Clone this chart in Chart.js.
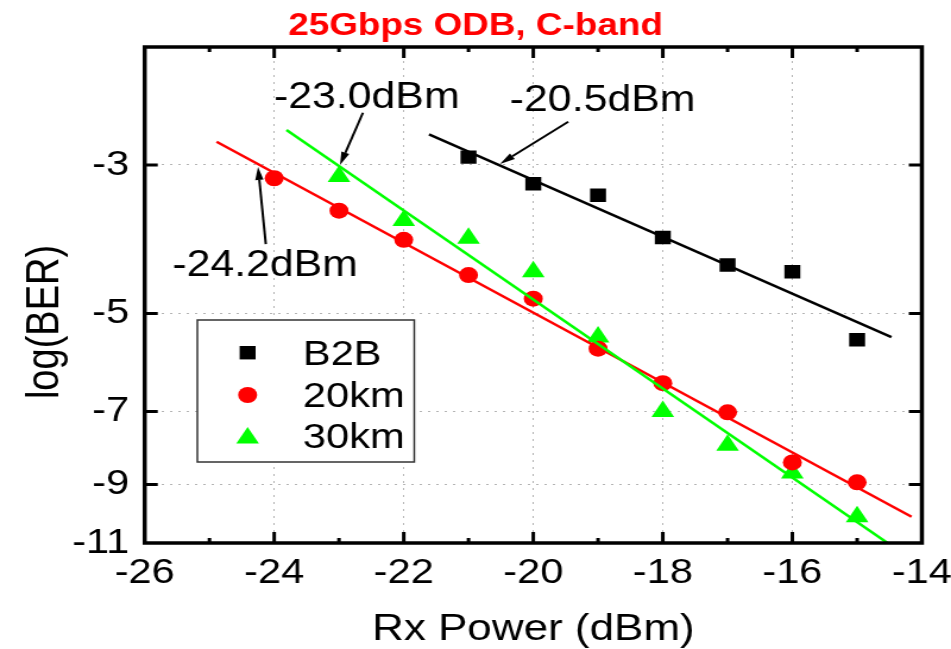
<!DOCTYPE html>
<html>
<head>
<meta charset="utf-8">
<script src="https://cdn.jsdelivr.net/npm/chart.js@4.4.1/dist/chart.umd.min.js"></script>
<style>
  html, body { margin: 0; padding: 0; background: #fff; overflow: hidden; }
  #wrap { width: 800px; height: 649px; transform: scaleX(1.18875); transform-origin: 0 0; }
</style>
</head>
<body>
<div id="wrap"><canvas id="berChart" width="800" height="649"></canvas></div>
<script>
// axis ticks
const xTicks = [-26, -24, -22, -20, -18, -16, -14];
const yTicks = [-3, -5, -7, -9, -11];

// measured points, log(BER)
const b2bX = [-21, -20, -19, -18, -17, -16, -15];
const b2bBER = [-2.92, -3.20, -3.33, -3.85, -4.23, -4.33, -5.47];
const km20X = [-24, -23, -22, -21, -20, -19, -18, -17, -16, -15];
const km20BER = [-3.14, -3.51, -3.88, -4.38, -4.75, -5.64, -6.35, -7.02, -8.34, -8.93];
const km30X = [-23, -22, -21, -20, -19, -18, -17, -16, -15];
const km30BER = [-3.12, -3.63, -3.86, -4.33, -5.42, -7.0, -7.86, -8.65, -10.05];

// fitted lines (end points)
const b2bFitX = [-21.61, -14.47];
const b2bFitBER = [-2.70, -5.42];
const km20FitX = [-24.89, -14.16];
const km20FitBER = [-2.77, -10.05];
const km30FitX = [-23.81, -14.53];
const km30FitBER = [-2.66, -11.0];

// sensitivity notes
const noteLabels = ['-23.0dBm', '-20.5dBm', '-24.2dBm'];
const noteTextX = [-22.57, -18.93, -24.14];
const noteTextBER = [-2.467, -2.493, -4.39];
const noteTailX = [-22.63, -19.46, -24.13];
const noteTailBER = [-2.507, -2.586, -3.937];
const noteTipX = [-22.985, -20.515, -24.25];
const noteTipBER = [-3.0, -2.99, -3.02];

const seriesNames = ['B2B', '20km', '30km'];

const FONT = "'Liberation Sans', Arial, sans-serif";

const pts = (xs, ys) => xs.map((x, i) => ({x: x, y: -ys[i]}));

const markerDs = (label, xs, ys, color, style, r) => ({
    label: label, data: pts(xs, ys), showLine: false, order: 2,
    pointStyle: style, pointRadius: r, pointHoverRadius: r,
    backgroundColor: color, borderColor: color, borderWidth: 0
});
const fitDs = (xs, ys, color, order) => ({
    label: '', data: pts(xs, ys), showLine: true, order: order,
    pointRadius: 0, borderColor: color, borderWidth: 2.5, fill: false
});

const drawMarker = (ctx, style, x, y, r, color) => {
    ctx.fillStyle = color;
    ctx.beginPath();
    if (style === 'rect') {
        const s = Math.SQRT1_2 * r;
        ctx.rect(x - s, y - s, 2 * s, 2 * s);
    } else if (style === 'circle') {
        ctx.arc(x, y, r, 0, Math.PI * 2);
    } else {
        ctx.moveTo(x, y - r);
        ctx.lineTo(x + 0.866 * r, y + 0.5 * r);
        ctx.lineTo(x - 0.866 * r, y + 0.5 * r);
        ctx.closePath();
    }
    ctx.fill();
};

const decor = {
    id: 'decor',
    afterDatasetsDraw(chart) {
        const {ctx, chartArea: a, scales: {x, y}} = chart;
        ctx.save();

        // inward tick marks on all four sides
        ctx.strokeStyle = '#000';
        ctx.lineWidth = 3;
        ctx.beginPath();
        for (let v = -25; v < -14; v++) {
            const px = x.getPixelForValue(v);
            const len = v % 2 === 0 ? 11 : 5;
            ctx.moveTo(px, a.bottom); ctx.lineTo(px, a.bottom - len);
            ctx.moveTo(px, a.top); ctx.lineTo(px, a.top + len);
        }
        yTicks.slice(0, -1).forEach(t => {
            const py = y.getPixelForValue(-t);
            ctx.moveTo(a.left, py); ctx.lineTo(a.left + 11, py);
            ctx.moveTo(a.right, py); ctx.lineTo(a.right - 11, py);
        });
        ctx.stroke();

        // frame
        ctx.lineWidth = 3.5;
        ctx.strokeRect(a.left, a.top, a.right - a.left, a.bottom - a.top);

        // notes with arrows
        ctx.lineWidth = 2;
        ctx.fillStyle = '#000';
        ctx.font = '36px ' + FONT;
        ctx.textAlign = 'center';
        ctx.textBaseline = 'alphabetic';
        noteLabels.forEach((t, i) => {
            ctx.fillText(t, x.getPixelForValue(noteTextX[i]), y.getPixelForValue(-noteTextBER[i]));
            const x0 = x.getPixelForValue(noteTailX[i]), y0 = y.getPixelForValue(-noteTailBER[i]);
            const x1 = x.getPixelForValue(noteTipX[i]), y1 = y.getPixelForValue(-noteTipBER[i]);
            const ang = Math.atan2(y1 - y0, x1 - x0);
            const hl = 13, hw = 3.5;
            const bx = x1 - hl * Math.cos(ang), by = y1 - hl * Math.sin(ang);
            ctx.beginPath();
            ctx.moveTo(x0, y0); ctx.lineTo(bx, by);
            ctx.stroke();
            ctx.beginPath();
            ctx.moveTo(x1, y1);
            ctx.lineTo(bx + hw * Math.sin(ang), by - hw * Math.cos(ang));
            ctx.lineTo(bx - hw * Math.sin(ang), by + hw * Math.cos(ang));
            ctx.closePath();
            ctx.fill();
        });

        // legend box
        ctx.fillStyle = '#fff';
        ctx.fillRect(166, 320, 182.5, 142);
        ctx.strokeStyle = '#333';
        ctx.lineWidth = 1.5;
        ctx.strokeRect(166, 320, 182.5, 142);
        const styles = ['rect', 'circle', 'triangle'];
        const radii = [9.5, 8, 11];
        const mY = [352.7, 395, 438];
        const tY = [365, 406.7, 448];
        ctx.textAlign = 'left';
        ctx.font = '35px ' + FONT;
        chart.data.datasets.slice(0, 3).forEach((ds, i) => {
            drawMarker(ctx, styles[i], 208.3, mY[i], radii[i], ds.backgroundColor);
            ctx.fillStyle = '#000';
            ctx.fillText(seriesNames[i], 254.8, tY[i]);
        });

        // titles
        ctx.textAlign = 'center';
        ctx.fillStyle = '#000';
        ctx.font = '37px ' + FONT;
        ctx.fillText('Rx Power (dBm)', (a.left + a.right) / 2, 640);
        ctx.save();
        ctx.translate(48.5, 322);
        ctx.rotate(-Math.PI / 2);
        ctx.font = '38px ' + FONT;
        ctx.fillText('log(BER)', 0, 0);
        ctx.restore();
        ctx.fillStyle = '#ff0000';
        ctx.font = 'bold 31px ' + FONT;
        ctx.fillText('25Gbps ODB, C-band', 400, 35);

        ctx.restore();
    }
};

new Chart(document.getElementById('berChart'), {
    type: 'scatter',
    data: {
        datasets: [
            markerDs(seriesNames[0], b2bX, b2bBER, '#000000', 'rect', 9.5),
            markerDs(seriesNames[1], km20X, km20BER, '#ff0000', 'circle', 8),
            markerDs(seriesNames[2], km30X, km30BER, '#00ff00', 'triangle', 11),
            fitDs(b2bFitX, b2bFitBER, '#000000', 1),
            fitDs(km20FitX, km20FitBER, '#ff0000', 1),
            fitDs(km30FitX, km30FitBER, '#00ff00', 0)
        ]
    },
    options: {
        responsive: false,
        animation: false,
        devicePixelRatio: 1,
        layout: {padding: {left: 0, right: 24.5, top: 47, bottom: 0}},
        plugins: {legend: {display: false}, tooltip: {enabled: false}, title: {display: false}},
        scales: {
            x: {
                type: 'linear', min: -26, max: -14,
                afterBuildTicks: s => { s.ticks = xTicks.map(v => ({value: v})); },
                afterFit: s => { s.height = 106; s.paddingLeft = 0; s.paddingRight = 0; },
                ticks: {color: '#000', font: {size: 35, family: FONT}, padding: 9, maxRotation: 0, autoSkip: false},
                grid: {color: '#b4b4b4', lineWidth: 1, drawTicks: false},
                border: {display: false, dash: [2, 5]}
            },
            y: {
                type: 'logarithmic', min: 2, max: 11, reverse: true,
                afterBuildTicks: s => { s.ticks = yTicks.map(v => ({value: -v})); },
                afterFit: s => { s.width = 121.7; s.paddingTop = 0; s.paddingBottom = 0; },
                ticks: {color: '#000', font: {size: 35, family: FONT}, padding: 13, autoSkip: false,
                        callback: v => '-' + v},
                grid: {color: '#b4b4b4', lineWidth: 1, drawTicks: false},
                border: {display: false, dash: [2, 5]}
            }
        }
    },
    plugins: [decor]
});
</script>
</body>
</html>
